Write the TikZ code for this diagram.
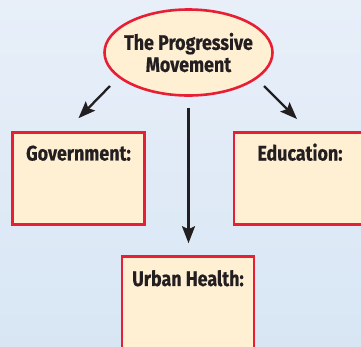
\documentclass[tikz,border=0pt]{standalone}
\usepackage{fontspec}
\setmainfont{Fira Sans}[FakeStretch=0.85,BoldFeatures={FakeBold=0.6}]
\usetikzlibrary{arrows.meta,shapes.geometric}

\definecolor{skytop}{RGB}{232,239,249}
\definecolor{skybottom}{RGB}{216,230,244}
\definecolor{cream}{RGB}{255,240,212}
\definecolor{boxred}{RGB}{232,30,52}
\definecolor{ink}{RGB}{35,31,32}

\tikzset{
  topic/.style={ellipse, draw=boxred, fill=cream, line width=2.6pt,
    minimum width=168pt, minimum height=86pt, inner xsep=-8pt, inner ysep=0pt,
    align=center, text=ink, font=\bfseries\fontsize{21}{22}\selectfont},
  notebox/.style={draw=boxred, fill=cream, line width=2.6pt,
    minimum width=132pt, minimum height=92pt, inner sep=0pt},
  heading/.style={text=ink, font=\bfseries\fontsize{21}{22}\selectfont},
  pointer/.style={line width=2.3pt, draw=ink,
    -{Stealth[length=17pt,width=13pt,inset=3pt]}}
}

\begin{document}
\begin{tikzpicture}[x=1pt,y=-1pt]
  % page and background
  \useasboundingbox (0,0) rectangle (361,346);
  \clip (0,0) rectangle (361,346);
  \shade[top color=skytop, bottom color=skybottom] (0,0) rectangle (361,346);

  % topic and the three boxes
  \node[topic] (prog) at (188.5,52.5) {The Progressive\\Movement};
  \node[notebox, label={[heading,anchor=center,yshift=-22pt]north:Government:}]
    (gov) at (78.5,178.5) {};
  \node[notebox, label={[heading,anchor=center,yshift=-21pt]north:Education:}]
    (edu) at (300,178.5) {};
  \node[notebox, label={[heading,anchor=center,yshift=-23pt]north:Urban Health:}]
    (urban) at (188,302.5) {};

  % arrows
  \coordinate (govtail) at (110,86);
  \coordinate (govhead) at ([shift={(0,-13)}]gov.north);
  \coordinate (edutail) at (264,86);
  \coordinate (eduhead) at (297,119);
  \draw[pointer] (govtail) -- (govhead);
  \draw[pointer] (edutail) -- (eduhead);
  \draw[pointer, shorten <=11pt, shorten >=12pt] (prog.south) -- (prog.south |- urban.north);
\end{tikzpicture}
\end{document}
